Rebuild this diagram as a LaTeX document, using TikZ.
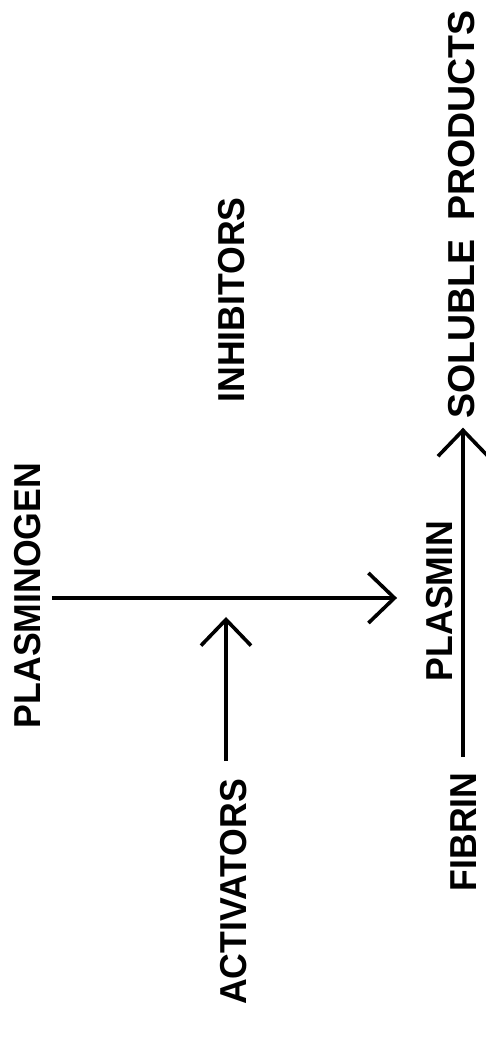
\documentclass[tikz,border=0pt]{standalone}
\usepackage{fontspec}
\setmainfont{Liberation Sans}
\usetikzlibrary{arrows.meta}
\tikzset{
  label/.style={font=\fontsize{37.5}{40}\selectfont\bfseries, rotate=90,
    inner sep=0pt, outer sep=0pt, text height=26.9pt, text depth=0pt},
  arr/.style={line width=3.6pt,
    -{Straight Barb[length=26pt,width=50pt,line width=3.6pt]}}
}
\newcommand{\lbl}[1]{\scalebox{0.95}[1]{#1}}
\begin{document}
\begin{tikzpicture}[x=1pt,y=1pt]
  \useasboundingbox (0,0) rectangle (485,1064);
  % substances
  \node[label] (plg) at (27,468.5) {\lbl{PLASMINOGEN}};
  \node[label] (inh) at (231,764) {\lbl{INHIBITORS}};
  \node[label] (act) at (233,172) {\lbl{ACTIVATORS}};
  \node[label] (pls) at (439,463) {\lbl{PLASMIN}};
  \node[label] (fib) at (463,232) {\lbl{FIBRIN}};
  \node[label] (sol) at (461,849.5) {SOLUBLE\hspace{0.5em}PRODUCTS};
  % point where the activators act on the conversion
  \coordinate (act tip) at (226,447);
  % conversion of plasminogen to plasmin
  \draw[arr] ([xshift=11.5pt]plg.south |- 0,466) -- ([xshift=-28.5pt]pls.north |- 0,466);
  % activators acting on the conversion
  \draw[arr] ([yshift=18pt]act.east -| act tip) -- (act tip);
  % fibrin broken down into soluble products
  \draw[arr] ([yshift=15.5pt]fib.east) -- ([yshift=-9pt]sol.west -| fib.east);
\end{tikzpicture}
\end{document}
